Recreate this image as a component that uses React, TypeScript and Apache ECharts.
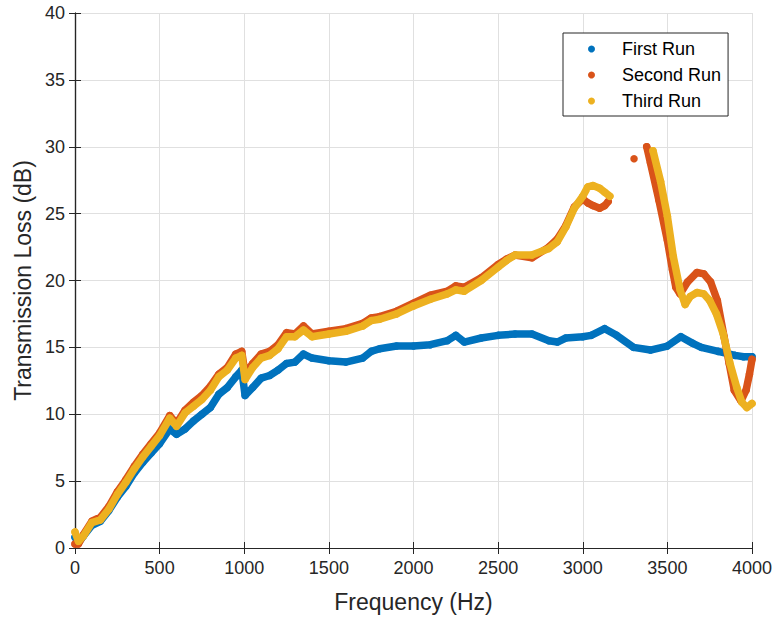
import React, { useEffect, useRef } from "react";
import * as echarts from "echarts";

// ---------- data ----------
const SERIES_NAMES = ["First Run", "Second Run", "Third Run"];
const X_TICKS = [0, 500, 1000, 1500, 2000, 2500, 3000, 3500, 4000];
const Y_TICKS = [0, 5, 10, 15, 20, 25, 30, 35, 40];

const FIRST_FREQ = [
  0, 20, 50, 100, 150, 200, 250, 300, 350, 400, 450, 500, 560, 600, 650, 700, 750, 800, 850, 900,
  950, 985, 1005, 1050, 1100, 1150, 1200, 1250, 1300, 1350, 1400, 1500, 1600, 1700, 1750, 1800,
  1900, 2000, 2100, 2200, 2250, 2300, 2400, 2500, 2600, 2700, 2800, 2850, 2900, 3000, 3050, 3130,
  3200, 3300, 3400, 3500, 3580, 3650, 3700, 3800, 3900, 3950, 4000,
];
const FIRST_TL = [
  0.8, 0.4, 0.9, 1.7, 2.0, 2.8, 3.8, 4.6, 5.6, 6.4, 7.1, 7.8, 8.9, 8.5, 8.9, 9.5, 10.0, 10.5, 11.5, 12.0,
  12.8, 13.3, 11.4, 12.0, 12.7, 12.9, 13.3, 13.8, 13.9, 14.5, 14.2, 14.0, 13.9, 14.2, 14.7, 14.9,
  15.1, 15.1, 15.2, 15.5, 15.9, 15.4, 15.7, 15.9, 16.0, 16.0, 15.5, 15.4, 15.7, 15.8, 15.9, 16.4,
  15.9, 15.0, 14.8, 15.1, 15.8, 15.3, 15.0, 14.7, 14.4, 14.3, 14.3,
];

const SECOND_FREQ = [
  0, 20, 50, 100, 150, 200, 250, 300, 350, 400, 450, 500, 560, 600, 650, 700, 750, 800, 850, 900,
  950, 985, 1005, 1050, 1100, 1150, 1200, 1250, 1300, 1350, 1400, 1500, 1600, 1700, 1750, 1800,
  1900, 2000, 2100, 2200, 2250, 2300, 2400, 2500, 2550, 2600, 2700, 2800, 2850, 2900, 2950, 3000,
  3030, 3060, 3100, 3130, 3150, 3220, 3303, 3340, 3378, 3400, 3450, 3500, 3530, 3550, 3575, 3620,
  3675, 3715, 3755, 3795, 3835, 3865, 3895, 3935, 3965, 3985, 4000,
];
const SECOND_TL = [
  0.3, 0.3, 1.0, 2.0, 2.3, 3.1, 4.2, 5.1, 6.1, 7.0, 7.8, 8.6, 9.9, 9.3, 10.3, 10.9, 11.4, 12.1, 13.0, 13.5,
  14.5, 14.7, 13.0, 13.8, 14.5, 14.7, 15.2, 16.1, 16.0, 16.6, 16.0, 16.2, 16.4, 16.8, 17.2, 17.3,
  17.7, 18.3, 18.9, 19.2, 19.6, 19.5, 20.2, 21.2, 21.6, 21.9, 21.7, 22.5, 23.1, 24.1, 25.5, 26.1,
  25.8, 25.6, 25.4, 25.6, 25.9, null, 29.1, null, 30.0, 28.8, 26.0, 23.0, 20.8, 19.5, 19.0, 19.9,
  20.6, 20.5, 19.9, 18.5, 15.8, 13.8, 11.8, 11.0, 11.8, 13.0, 14.1,
];

const THIRD_FREQ = [
  0, 20, 50, 100, 150, 200, 250, 300, 350, 400, 450, 500, 560, 600, 650, 700, 750, 800, 850, 900,
  950, 985, 1005, 1050, 1100, 1150, 1200, 1250, 1300, 1350, 1400, 1500, 1600, 1700, 1750, 1800,
  1900, 2000, 2100, 2200, 2250, 2300, 2400, 2500, 2550, 2600, 2700, 2800, 2850, 2900, 2950, 3000,
  3030, 3060, 3100, 3130, 3160, 3300, 3415, 3460, 3500, 3535, 3575, 3605, 3635, 3675, 3715, 3750,
  3790, 3830, 3870, 3910, 3940, 3970, 4000,
];
const THIRD_TL = [
  1.2, 0.5, 0.9, 1.9, 2.1, 2.9, 4.0, 4.9, 5.9, 6.8, 7.6, 8.4, 9.7, 9.1, 10.1, 10.6, 11.1, 11.8, 12.8, 13.3,
  14.2, 14.4, 12.6, 13.5, 14.2, 14.4, 14.9, 15.8, 15.8, 16.3, 15.8, 16.0, 16.2, 16.6, 17.0, 17.1,
  17.5, 18.1, 18.6, 19.0, 19.3, 19.2, 20.0, 21.0, 21.5, 21.9, 21.9, 22.4, 22.9, 24.0, 25.4, 26.3,
  27.0, 27.1, 26.9, 26.6, 26.3, null, 29.7, 27.4, 24.8, 21.8, 19.3, 18.2, 18.8, 19.1, 19.0, 18.5,
  17.5, 16.0, 13.8, 12.0, 10.9, 10.5, 10.8,
];

const COLORS = ["#0072BD", "#D95319", "#EDB120"];

const zip = (xs: number[], ys: (number | null)[]) =>
  xs.map((x, i) => [x, ys[i] === null ? "-" : ys[i]]);

const FONT = "'Liberation Sans', Arial, Helvetica, sans-serif";
const AXIS_COLOR = "#262626";

export default function App() {
  const ref = useRef<HTMLDivElement>(null);

  useEffect(() => {
    document.body.style.margin = "0";
    if (!ref.current) return;
    const chart = echarts.init(ref.current, undefined, { renderer: "svg" });

    const seriesData = [
      zip(FIRST_FREQ, FIRST_TL),
      zip(SECOND_FREQ, SECOND_TL),
      zip(THIRD_FREQ, THIRD_TL),
    ];

    const baseAxisLine = { show: true, lineStyle: { color: AXIS_COLOR, width: 1.2 } };
    const inTicks = { show: true, inside: true, length: 6, lineStyle: { color: AXIS_COLOR, width: 1 } };

    chart.setOption({
      animation: false,
      backgroundColor: "#ffffff",
      textStyle: { fontFamily: FONT },
      grid: { left: 75, right: 26, top: 13, bottom: 74, containLabel: false, outerBoundsMode: "none" },
      legend: {
        data: SERIES_NAMES.map((n) => ({ name: n, icon: "circle" })),
        orient: "vertical",
        left: 563,
        top: 33,
        itemWidth: 25,
        itemHeight: 7,
        itemGap: 8,
        padding: [7, 7, 6, 25],
        backgroundColor: "#ffffff",
        borderColor: AXIS_COLOR,
        borderWidth: 1,
        borderRadius: 0,
        selectedMode: false,
        textStyle: { fontFamily: FONT, fontSize: 18, color: "#000000", padding: [0, 0, 0, 13] },
      },
      xAxis: [
        {
          type: "value",
          min: 0,
          max: 4000,
          interval: 500,
          position: "bottom",
          name: "Frequency (Hz)",
          nameLocation: "middle",
          nameGap: 42,
          nameTextStyle: { fontFamily: FONT, fontSize: 23, color: AXIS_COLOR },
          axisLine: baseAxisLine,
          axisTick: inTicks,
          axisLabel: {
            fontFamily: FONT,
            fontSize: 18,
            color: AXIS_COLOR,
            margin: 11,
            formatter: (v: number) => (X_TICKS.includes(v) ? String(v) : ""),
          },
          splitLine: { show: true, lineStyle: { color: "#e0e0e0", width: 1 } },
        },
        {
          type: "value",
          min: 0,
          max: 4000,
          interval: 500,
          position: "top",
          axisLine: baseAxisLine,
          axisTick: inTicks,
          axisLabel: { show: false },
          splitLine: { show: false },
        },
      ],
      yAxis: [
        {
          type: "value",
          min: 0,
          max: 40,
          interval: 5,
          position: "left",
          name: "Transmission Loss (dB)",
          nameLocation: "middle",
          nameGap: 38,
          nameTextStyle: { fontFamily: FONT, fontSize: 23, color: AXIS_COLOR },
          axisLine: baseAxisLine,
          axisTick: inTicks,
          axisLabel: {
            fontFamily: FONT,
            fontSize: 18,
            color: AXIS_COLOR,
            margin: 10,
            formatter: (v: number) => (Y_TICKS.includes(v) ? String(v) : ""),
          },
          splitLine: { show: true, lineStyle: { color: "#e0e0e0", width: 1 } },
        },
        {
          type: "value",
          min: 0,
          max: 40,
          interval: 5,
          position: "right",
          axisLine: baseAxisLine,
          axisTick: inTicks,
          axisLabel: { show: false },
          splitLine: { show: false },
        },
      ],
      series: SERIES_NAMES.map((name, i) => ({
        name,
        type: "line",
        xAxisIndex: 0,
        yAxisIndex: 0,
        data: seriesData[i],
        color: COLORS[i],
        showSymbol: true,
        showAllSymbol: true,
        symbol: "circle",
        symbolSize: 7.5,
        connectNulls: false,
        z: 2 + i,
        itemStyle: { color: COLORS[i], borderWidth: 0 },
        lineStyle: { color: COLORS[i], width: 7.5, cap: "round", join: "round" },
        emphasis: { disabled: true },
      })),
    });

    return () => chart.dispose();
  }, []);

  return <div ref={ref} style={{ width: 778, height: 622 }} />;
}
